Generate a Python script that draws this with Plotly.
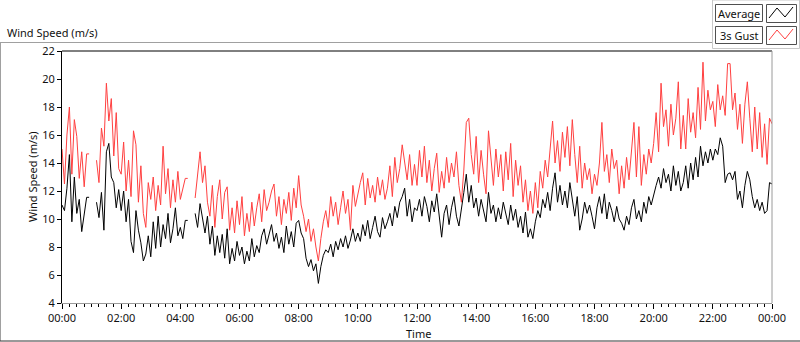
import plotly.graph_objects as go

# ---- data (5-minute samples, hours 0..24) ----
step_minutes = 5
gust = [
    15.0, 12.5, 16.0, 18.0, 13.2, 17.1, 15.9, 12.9, 14.8, 12.3, 14.65, 14.65,
    None, None, 14.2, 12.6, 16.5, 15.2, 19.7, 17.0, 18.6, 14.5, 17.6, 13.6,
    13.2, 15.5, 12.0, 14.2, 11.6, 16.3, 15.3, 11.2, 13.8, 10.4, 9.4, 12.6,
    11.4, 13.0, 10.6, 12.4, 11.0, 15.2, 11.8, 13.6, 10.8, 12.8, 11.2, 13.4,
    11.4, 12.2, 12.9, 12.9, None, None, 11.5, 13.4, 14.8, 12.6, 13.8, 11.2,
    10.2, 12.4, 9.4, 11.6, 12.8, 10.0, 11.9, 12.3, 9.2, 10.8, 9.0, 11.3,
    9.6, 11.6, 8.8, 10.4, 9.1, 11.2, 9.5, 10.8, 11.8, 9.8, 12.1, 10.6,
    11.2, 12.0, 12.5, 10.2, 11.6, 9.6, 11.4, 10.4, 11.9, 9.9, 12.2, 10.8,
    13.1, 11.0, 10.2, 9.1, 10.0, 8.4, 9.3, 8.0, 7.0, 8.6, 9.8, 10.6,
    9.4, 11.6, 10.2, 11.2, 9.6, 10.8, 12.0, 10.4, 11.4, 9.2, 12.4, 10.9,
    11.8, 12.6, 13.3, 11.0, 12.9, 11.5, 12.4, 11.2, 13.0, 11.7, 12.8, 11.4,
    12.2, 13.8, 11.6, 14.4, 12.6, 13.6, 15.3, 14.0, 12.8, 14.6, 12.4, 13.9,
    12.4, 14.9, 13.0, 15.2, 12.6, 14.2, 12.0, 13.6, 14.7, 11.9, 13.4, 12.2,
    14.4, 12.6, 14.0, 13.0, 14.8, 12.4, 11.2, 13.5, 16.9, 17.2, 14.6, 13.2,
    15.9, 12.6, 14.9, 13.2, 11.8, 16.3, 14.2, 12.4, 15.0, 13.0, 14.6, 12.0,
    14.8, 12.8, 15.4, 11.6, 14.2, 12.4, 13.8, 11.2, 12.8, 10.6, 12.0, 10.4,
    12.6, 10.8, 13.4, 12.2, 14.2, 13.0, 15.0, 17.0, 14.0, 15.6, 13.4, 16.2,
    14.4, 16.6, 13.8, 17.1, 14.6, 12.6, 15.2, 12.2, 14.0, 12.8, 13.6, 11.8,
    13.2, 12.4, 14.0, 16.9, 13.4, 14.6, 12.6, 15.0, 13.6, 14.2, 11.8, 13.8,
    12.2, 14.4, 12.8, 15.2, 16.9, 13.0, 16.6, 12.4, 14.6, 13.2, 15.0, 14.0,
    15.4, 17.6, 14.8, 19.7, 16.6, 17.8, 15.2, 18.2, 16.0, 17.2, 19.8, 15.0,
    17.4, 15.0, 18.6, 16.2, 17.6, 15.8, 19.4, 16.4, 21.2, 17.0, 19.2, 17.8,
    18.4, 16.6, 19.6, 17.8, 18.8, 17.4, 21.1, 21.1, 17.8, 19.0, 16.4, 18.2,
    15.4, 18.2, 19.8, 17.2, 14.8, 18.0, 15.0, 17.6, 14.4, 16.8, 13.9, 17.2,
    16.8,
]
average = [
    11.0, 10.6, 12.2, 14.6, 9.8, 13.0, 10.4, 11.4, 9.1, 10.2, 11.55, 11.55,
    None, None, 11.2, 10.1, 11.9, 9.2, 14.8, 15.4, 13.0, 12.6, 10.8, 12.1,
    10.6, 12.0, 9.8, 11.4, 8.4, 7.6, 10.6, 9.2, 8.3, 7.0, 7.5, 8.8,
    7.3, 9.8, 7.9, 10.2, 8.0, 9.6, 8.6, 10.4, 8.3, 9.3, 10.8, 8.8,
    9.4, 8.6, 9.9, 9.9, None, None, 10.4, 9.4, 11.1, 10.0, 9.0, 10.2,
    8.2, 9.5, 7.4, 8.8, 7.6, 8.9, 7.2, 9.3, 6.8, 7.9, 7.0, 8.4,
    7.4, 8.0, 6.8, 7.7, 7.0, 8.6, 7.3, 8.1, 7.6, 8.8, 9.3, 8.2,
    8.9, 9.6, 8.4, 9.0, 7.9, 8.7, 7.6, 9.5, 8.2, 9.1, 8.0, 9.7,
    9.9, 9.0, 8.6, 7.2, 6.6, 7.1, 6.3, 6.8, 5.4, 6.6, 7.4, 7.8,
    7.6, 8.2, 7.3, 8.4, 7.8, 8.6, 8.0, 8.8, 7.9, 8.5, 9.3, 8.4,
    9.0, 8.4, 9.6, 8.8, 9.9, 8.6, 9.4, 10.2, 9.1, 8.7, 10.1, 9.3,
    9.8, 10.4, 9.5, 10.9, 10.1, 11.2, 11.6, 12.2, 10.2, 11.4, 9.8, 10.8,
    10.6, 11.4, 10.2, 11.6, 10.9, 9.8, 11.3, 10.5, 11.8, 10.0, 8.7, 10.4,
    11.0, 9.6, 10.8, 11.6, 10.2, 9.5, 10.6, 11.9, 13.2, 11.2, 12.4, 10.8,
    11.5, 10.2, 11.4, 10.6, 9.8, 11.9, 10.4, 11.0, 9.8, 10.8, 10.0, 11.2,
    10.4, 9.6, 11.0, 9.9, 10.7, 9.4, 10.2, 9.0, 10.5, 8.7, 9.3, 8.6,
    9.8, 10.6, 10.1, 11.4, 10.8, 11.9, 10.6, 12.2, 13.3, 11.2, 12.4, 11.0,
    12.0, 10.8, 12.6, 11.4, 10.2, 11.6, 9.2, 10.0, 11.2, 10.4, 11.0, 10.2,
    9.3, 10.8, 11.6, 10.4, 11.8, 10.0, 11.2, 10.6, 9.8, 10.9, 10.0, 9.7,
    9.2, 10.2, 9.6, 10.8, 11.4, 10.0, 10.6, 9.8, 11.2, 10.4, 11.6, 11.0,
    11.8, 12.4, 13.0, 12.2, 13.6, 12.6, 13.2, 12.0, 13.8, 12.4, 13.4, 12.0,
    12.6, 13.8, 12.2, 14.0, 12.8, 14.4, 13.0, 15.2, 13.8, 14.8, 14.0, 15.0,
    14.2, 15.0, 14.6, 15.8, 15.2, 12.6, 13.2, 13.3, 12.8, 13.4, 11.4, 12.0,
    10.8, 12.4, 13.4, 12.8, 11.6, 10.8, 11.4, 10.6, 11.2, 10.4, 10.6, 12.6,
    12.5,
]
hour_ticks = [0, 2, 4, 6, 8, 10, 12, 14, 16, 18, 20, 22, 24]
hour_labels = ["00:00", "02:00", "04:00", "06:00", "08:00", "10:00", "12:00",
               "14:00", "16:00", "18:00", "20:00", "22:00", "00:00"]
y_ticks = [4, 6, 8, 10, 12, 14, 16, 18, 20, 22]

hours = [i * step_minutes / 60 for i in range(len(gust))]

FONT = "Noto Sans"
W, H = 800, 342
L, R, T, B = 62, 772, 51, 303


def px(x):
    return (x - L) / (R - L)


def py(y):
    return (B - y) / (B - T)


fig = go.Figure()
fig.add_trace(go.Scatter(x=hours, y=gust, mode="lines", name="3s Gust",
                         line=dict(color="#FF4040", width=1), connectgaps=False))
fig.add_trace(go.Scatter(x=hours, y=average, mode="lines", name="Average",
                         line=dict(color="#000000", width=1), connectgaps=False))

fig.update_layout(
    width=W, height=H,
    margin=dict(l=L, r=W - R, t=T, b=H - B, pad=0),
    paper_bgcolor="white", plot_bgcolor="white",
    showlegend=False,
    font=dict(family=FONT, size=11, color="#111111"),
)
fig.update_xaxes(
    range=[0, 24], tickvals=hour_ticks, ticktext=hour_labels,
    showgrid=False, zeroline=False,
    showline=True, linecolor="#9a9a9a", linewidth=1,
    ticks="outside", ticklen=5, tickcolor="#000", tickwidth=1,
    minor=dict(dtick=0.25, ticks="outside", ticklen=3, tickcolor="#000", tickwidth=1),
    tickfont=dict(family=FONT, size=11, color="#111111"),
)
fig.update_yaxes(
    range=[4, 22], tickvals=y_ticks,
    showgrid=False, zeroline=False,
    showline=True, linecolor="#000", linewidth=1,
    ticks="outside", ticklen=4, tickcolor="#000", tickwidth=1,
    tickfont=dict(family=FONT, size=11, color="#111111"),
)

shapes = []
# plot border: top black, right gray
shapes.append(dict(type="line", xref="paper", yref="paper", x0=0, x1=1, y0=1, y1=1,
                   line=dict(color="#000", width=1)))
shapes.append(dict(type="line", xref="paper", yref="paper", x0=1, x1=1, y0=0, y1=1,
                   line=dict(color="#9a9a9a", width=1)))
# outer frame
shapes.append(dict(type="line", xref="paper", yref="paper", x0=px(0), x1=px(713),
                   y0=py(42.5), y1=py(42.5), line=dict(color="#a0a0a0", width=1)))
shapes.append(dict(type="line", xref="paper", yref="paper", x0=px(0.5), x1=px(0.5),
                   y0=py(42.5), y1=py(341), line=dict(color="#a0a0a0", width=1)))
shapes.append(dict(type="line", xref="paper", yref="paper", x0=px(0), x1=px(800),
                   y0=py(341), y1=py(341), line=dict(color="#333333", width=1)))
# legend frame
shapes.append(dict(type="rect", xref="paper", yref="paper", x0=px(712.5), x1=px(799.5),
                   y0=py(48.5), y1=py(0), line=dict(color="#c8c8c8", width=1),
                   fillcolor="rgba(0,0,0,0)"))
for (top, col) in [(5, "#000000"), (27, "#FF4040")]:
    shapes.append(dict(type="rect", xref="paper", yref="paper", x0=px(715.5), x1=px(762.5),
                       y0=py(top + 16.5), y1=py(top - 0.5),
                       line=dict(color="#505050", width=1), fillcolor="white"))
    shapes.append(dict(type="rect", xref="paper", yref="paper", x0=px(766.5), x1=px(796.5),
                       y0=py(top + 17.5), y1=py(top - 0.5),
                       line=dict(color="#505050", width=1), fillcolor="white"))
    pts = [(769, top + 13), (777, top + 3), (785, top + 12), (793, top + 2)]
    path = "M " + " L ".join(f"{px(a)},{py(b)}" for a, b in pts)
    shapes.append(dict(type="path", xref="paper", yref="paper", path=path,
                       line=dict(color=col, width=1)))

annotations = [
    dict(text="Wind Speed (m/s)", xref="paper", yref="paper", x=px(5), y=py(32),
         xanchor="left", yanchor="middle", showarrow=False,
         font=dict(family=FONT, size=11, color="#111111")),
    dict(text="Wind Speed (m/s)", xref="paper", yref="paper", x=px(32), y=py(177),
         xanchor="center", yanchor="middle", textangle=-90, showarrow=False,
         font=dict(family=FONT, size=11, color="#111111")),
    dict(text="Time", xref="paper", yref="paper", x=px(418), y=py(333),
         xanchor="center", yanchor="middle", showarrow=False,
         font=dict(family=FONT, size=11, color="#111111")),
    dict(text="Average", xref="paper", yref="paper", x=px(739), y=py(13),
         xanchor="center", yanchor="middle", showarrow=False,
         font=dict(family=FONT, size=11, color="#111111")),
    dict(text="3s Gust", xref="paper", yref="paper", x=px(739), y=py(35),
         xanchor="center", yanchor="middle", showarrow=False,
         font=dict(family=FONT, size=11, color="#111111")),
]
fig.update_layout(shapes=shapes, annotations=annotations)

fig.write_html(
    "out.html",
    config={"displayModeBar": False},
    post_script="document.body.style.margin='0px';document.body.style.overflow='hidden';",
)
